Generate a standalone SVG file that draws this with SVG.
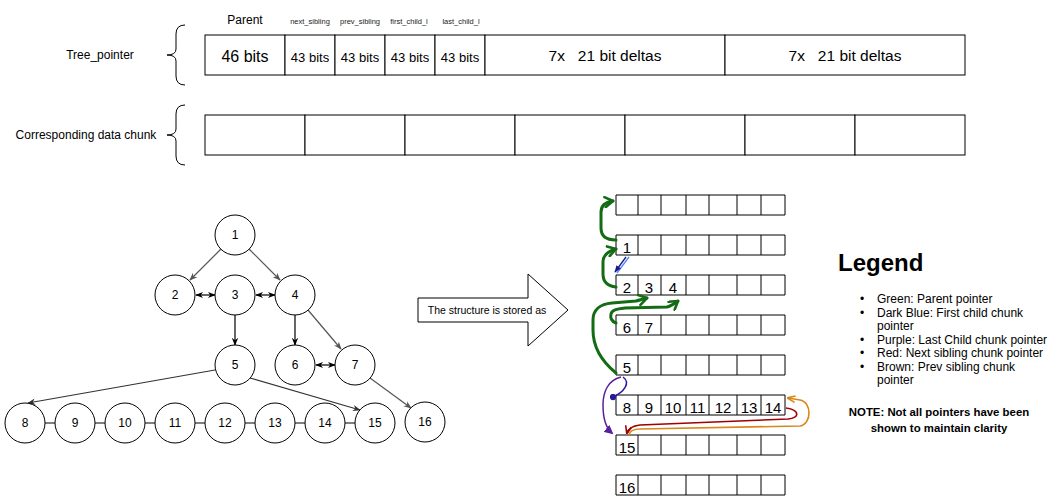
<svg xmlns="http://www.w3.org/2000/svg" width="1061" height="501" viewBox="0 0 1061 501">
<style>
text{font-family:"Liberation Sans",Arial,sans-serif;fill:#000}
.box{fill:#fff;stroke:#000;stroke-width:1}
.c{fill:#fff;stroke:#000;stroke-width:1}
.nt{font-size:12px;text-anchor:middle}
.ct{font-size:15px;text-anchor:middle}
.ln{fill:none;stroke:#000;stroke-width:1.2}
.lg{fill:none;stroke:#555;stroke-width:1.2}
.lg2{fill:none;stroke:#333;stroke-width:1.2}
.brace{fill:none;stroke:#000;stroke-width:1}
.gr{fill:none;stroke:#136b13;stroke-width:3;stroke-linecap:round;stroke-linejoin:round}
.sm{font-size:7.5px;text-anchor:middle;fill:#222}
.li{font-size:12px}
</style>
<defs>
<marker id="ab" viewBox="0 0 10 10" refX="9" refY="5" markerWidth="8" markerHeight="8" markerUnits="userSpaceOnUse" orient="auto-start-reverse"><path d="M0,1 L10,5 L0,9 L3,5 Z" fill="#000"/></marker>
<marker id="ag" viewBox="0 0 10 10" refX="9" refY="5" markerWidth="8" markerHeight="8" markerUnits="userSpaceOnUse" orient="auto"><path d="M0,1 L10,5 L0,9 L3,5 Z" fill="#333"/></marker>
<marker id="agg" viewBox="0 0 10 10" refX="9" refY="5" markerWidth="8" markerHeight="8" markerUnits="userSpaceOnUse" orient="auto"><path d="M0,1 L10,5 L0,9 L3,5 Z" fill="#555"/></marker>
<marker id="agreen" viewBox="0 0 12 12" refX="10" refY="6" markerWidth="12" markerHeight="12" markerUnits="userSpaceOnUse" orient="auto"><path d="M2,1 L10,6 L2,11" fill="none" stroke="#136b13" stroke-width="2.6" stroke-linecap="round" stroke-linejoin="round"/></marker>
<marker id="ared" viewBox="0 0 10 10" refX="9" refY="5" markerWidth="8" markerHeight="8" markerUnits="userSpaceOnUse" orient="auto"><path d="M0,1 L10,5 L0,9" fill="none" stroke="#a00000" stroke-width="2"/></marker>
<marker id="aor" viewBox="0 0 10 10" refX="9" refY="5" markerWidth="8" markerHeight="8" markerUnits="userSpaceOnUse" orient="auto"><path d="M0,1 L10,5 L0,9" fill="none" stroke="#d9861a" stroke-width="2"/></marker>
<marker id="apur" viewBox="0 0 10 10" refX="8" refY="5" markerWidth="9" markerHeight="9" markerUnits="userSpaceOnUse" orient="auto"><path d="M0,0 L10,5 L0,10 Z" fill="#5a1f9e"/></marker>
<marker id="adot" viewBox="0 0 10 10" refX="5" refY="5" markerWidth="7" markerHeight="7" markerUnits="userSpaceOnUse"><circle cx="5" cy="5" r="4.5" fill="#2a1a9a"/></marker>
<marker id="ablue" viewBox="0 0 10 10" refX="9" refY="5" markerWidth="7" markerHeight="7" markerUnits="userSpaceOnUse" orient="auto"><path d="M0,1 L10,5 L0,9 Z" fill="#1a1a8a"/></marker>
</defs>

<g id="tree-pointer">
<text x="100" y="59" font-size="12" text-anchor="middle">Tree_pointer</text>
<path class="brace" d="M185,25 Q176,25 176,34 L176,49 Q176,55 167,55 Q176,55 176,61 L176,76 Q176,85 185,85"/>
<text x="245" y="24" font-size="12" text-anchor="middle">Parent</text>
<text class="sm" x="310" y="24">next_sibling</text>
<text class="sm" x="360" y="24">prev_sibling</text>
<text class="sm" x="409" y="24">first_child_l</text>
<text class="sm" x="461" y="24">last_child_l</text>
<rect class="box" x="205" y="35" width="80" height="40"/>
<rect class="box" x="285" y="35" width="50" height="40"/>
<rect class="box" x="335" y="35" width="50" height="40"/>
<rect class="box" x="385" y="35" width="50" height="40"/>
<rect class="box" x="435" y="35" width="50" height="40"/>
<rect class="box" x="485" y="35" width="240" height="40"/>
<rect class="box" x="725" y="35" width="240" height="40"/>
<text x="245" y="62" font-size="16" text-anchor="middle">46 bits</text>
<text x="310" y="62" font-size="13" text-anchor="middle">43 bits</text>
<text x="360" y="62" font-size="13" text-anchor="middle">43 bits</text>
<text x="410" y="62" font-size="13" text-anchor="middle">43 bits</text>
<text x="460" y="62" font-size="13" text-anchor="middle">43 bits</text>
<text x="605" y="61" font-size="15.5" text-anchor="middle" style="white-space:pre">7x   21 bit deltas</text>
<text x="845" y="61" font-size="15.5" text-anchor="middle" style="white-space:pre">7x   21 bit deltas</text>
</g>

<g id="data-chunk">
<text x="86" y="139" font-size="12" text-anchor="middle">Corresponding data chunk</text>
<path class="brace" d="M185,105 Q176,105 176,114 L176,129 Q176,135 167,135 Q176,135 176,141 L176,156 Q176,165 185,165"/>
<rect class="box" x="205" y="115" width="100" height="40"/>
<rect class="box" x="305" y="115" width="100" height="40"/>
<rect class="box" x="405" y="115" width="110" height="40"/>
<rect class="box" x="515" y="115" width="110" height="40"/>
<rect class="box" x="625" y="115" width="120" height="40"/>
<rect class="box" x="745" y="115" width="110" height="40"/>
<rect class="box" x="855" y="115" width="110" height="40"/>
</g>

<g id="tree-connectors">
<line class="lg" x1="221" y1="249" x2="190" y2="280" marker-end="url(#agg)"/>
<line class="lg" x1="249" y1="249" x2="280" y2="280" marker-end="url(#agg)"/>
<line class="ln" x1="196" y1="295" x2="215" y2="295" marker-start="url(#ab)" marker-end="url(#ab)"/>
<line class="ln" x1="256" y1="295" x2="275" y2="295" marker-start="url(#ab)" marker-end="url(#ab)"/>
<line class="ln" x1="235" y1="315" x2="235" y2="345" marker-end="url(#ab)"/>
<line class="ln" x1="295" y1="315" x2="295" y2="345" marker-end="url(#ab)"/>
<line class="lg" x1="308" y1="310" x2="341" y2="349" marker-end="url(#agg)"/>
<line class="ln" x1="316" y1="365" x2="335" y2="365" marker-start="url(#ab)" marker-end="url(#ab)"/>
<line class="lg2" x1="215" y1="370" x2="28" y2="403" marker-end="url(#ag)"/>
<line class="lg2" x1="250" y1="378" x2="360" y2="410" marker-end="url(#ag)"/>
<line class="lg" x1="370" y1="378" x2="411" y2="408" marker-end="url(#agg)"/>
<path class="ln" d="M45,423 H55 M95,423 H105 M145,423 H155 M195,423 H205 M245,423 H255 M295,423 H305 M345,423 H355"/>
</g>

<g id="n1"><circle class="c" cx="235" cy="235" r="20"/><text class="nt" x="235" y="239">1</text></g>
<g id="n2"><circle class="c" cx="175" cy="295" r="20"/><text class="nt" x="175" y="299">2</text></g>
<g id="n3"><circle class="c" cx="235" cy="295" r="20"/><text class="nt" x="235" y="299">3</text></g>
<g id="n4"><circle class="c" cx="295" cy="295" r="20"/><text class="nt" x="295" y="299">4</text></g>
<g id="n5"><circle class="c" cx="235" cy="365" r="20"/><text class="nt" x="235" y="369">5</text></g>
<g id="n6"><circle class="c" cx="295" cy="365" r="20"/><text class="nt" x="295" y="369">6</text></g>
<g id="n7"><circle class="c" cx="355" cy="365" r="20"/><text class="nt" x="355" y="369">7</text></g>
<g id="n8"><circle class="c" cx="25" cy="423" r="20"/><text class="nt" x="25" y="427">8</text></g>
<g id="n9"><circle class="c" cx="75" cy="423" r="20"/><text class="nt" x="75" y="427">9</text></g>
<g id="n10"><circle class="c" cx="125" cy="423" r="20"/><text class="nt" x="125" y="427">10</text></g>
<g id="n11"><circle class="c" cx="175" cy="423" r="20"/><text class="nt" x="175" y="427">11</text></g>
<g id="n12"><circle class="c" cx="225" cy="423" r="20"/><text class="nt" x="225" y="427">12</text></g>
<g id="n13"><circle class="c" cx="275" cy="423" r="20"/><text class="nt" x="275" y="427">13</text></g>
<g id="n14"><circle class="c" cx="325" cy="423" r="20"/><text class="nt" x="325" y="427">14</text></g>
<g id="n15"><circle class="c" cx="375" cy="423" r="20"/><text class="nt" x="375" y="427">15</text></g>
<g id="n16"><circle class="c" cx="425" cy="422" r="20"/><text class="nt" x="425" y="426">16</text></g>

<g id="big-arrow">
<path d="M418,298 L528,298 L528,274 L568,310 L528,346 L528,322 L418,322 Z" fill="#fff" stroke="#000" stroke-width="1"/>
<text x="487" y="314" font-size="10.5" text-anchor="middle">The structure is stored as</text>
</g>

<g id="chunks">
<g id="row0"><path class="box" d="M616,195 H785 V215 H616 Z M638,195 V215 M661,195 V215 M686,195 V215 M709,195 V215 M737,195 V215 M761,195 V215"/></g>
<g id="row1"><path class="box" d="M616,235 H785 V255 H616 Z M638,235 V255 M661,235 V255 M686,235 V255 M709,235 V255 M737,235 V255 M761,235 V255"/>
<text class="ct" x="627" y="253">1</text></g>
<g id="row2"><path class="box" d="M616,275 H785 V295 H616 Z M638,275 V295 M661,275 V295 M686,275 V295 M709,275 V295 M737,275 V295 M761,275 V295"/>
<text class="ct" x="627" y="293">2</text><text class="ct" x="649" y="293">3</text><text class="ct" x="673" y="293">4</text></g>
<g id="row3"><path class="box" d="M616,315 H785 V335 H616 Z M638,315 V335 M661,315 V335 M686,315 V335 M709,315 V335 M737,315 V335 M761,315 V335"/>
<text class="ct" x="627" y="333">6</text><text class="ct" x="649" y="333">7</text></g>
<g id="row4"><path class="box" d="M616,355 H785 V375 H616 Z M638,355 V375 M661,355 V375 M686,355 V375 M709,355 V375 M737,355 V375 M761,355 V375"/>
<text class="ct" x="627" y="373">5</text></g>
<g id="row5"><path class="box" d="M616,395 H785 V415 H616 Z M638,395 V415 M661,395 V415 M686,395 V415 M709,395 V415 M737,395 V415 M761,395 V415"/>
<text class="ct" x="627" y="413">8</text><text class="ct" x="649" y="413">9</text><text class="ct" x="673" y="413">10</text><text class="ct" x="697.5" y="413">11</text><text class="ct" x="723" y="413">12</text><text class="ct" x="749" y="413">13</text><text class="ct" x="773" y="413">14</text></g>
<g id="row6"><path class="box" d="M616,435 H785 V455 H616 Z M638,435 V455 M661,435 V455 M686,435 V455 M709,435 V455 M737,435 V455 M761,435 V455"/>
<text class="ct" x="627" y="453">15</text></g>
<g id="row7"><path class="box" d="M616,475 H785 V495 H616 Z M638,475 V495 M661,475 V495 M686,475 V495 M709,475 V495 M737,475 V495 M761,475 V495"/>
<text class="ct" x="627" y="493">16</text></g>
</g>

<g id="pointer-connectors">
<path class="gr" d="M616,240 C606,240 601,236 601,228 L601,212 C601,205 606,202 613,201" marker-end="url(#agreen)"/>
<path class="gr" d="M616,287 C607,286 603,282 603,274 L603,262 C603,255 609,251 616,249" marker-end="url(#agreen)"/>
<path class="gr" d="M616,373 C600,360 593,345 593,330 L593,320 C593,310 600,304 612,303 L636,301 C640,300 643,299 647,298" marker-end="url(#agreen)"/>
<path class="gr" d="M616,323 C611,321 610,318 611,314 C612,310 616,309 625,308 L667,307 C671,306 674,304 678,301" marker-end="url(#agreen)"/>
<line x1="629" y1="257" x2="617" y2="273" stroke="#4d88ff" stroke-width="1.3"/>
<line x1="626" y1="257" x2="615" y2="272" stroke="#1a1a8a" stroke-width="1.3" marker-end="url(#ablue)"/>
<path d="M621,377 C608,380 603,392 603,405 C603,420 606,428 612,433" fill="none" stroke="#5a1f9e" stroke-width="1.5" marker-end="url(#apur)"/>
<path d="M623,377 C631,383 624,392 613,397" fill="none" stroke="#2a1a9a" stroke-width="1.5" marker-end="url(#adot)"/>
<path d="M786,408 C800,410 800,418 788,419 L640,425 C632,426 628,429 627,433" fill="none" stroke="#a00000" stroke-width="1.6" marker-end="url(#ared)"/>
<path d="M629,435 C630,430 634,429 640,429 L800,426 C812,424 812,402 800,400 L788,398" fill="none" stroke="#d9861a" stroke-width="1.6" marker-end="url(#aor)"/>
</g>

<g id="legend">
<text x="838" y="271" font-size="24" font-weight="bold">Legend</text>
<text class="li" x="860" y="303">•</text><text class="li" x="877" y="303">Green: Parent pointer</text>
<text class="li" x="860" y="316.5">•</text><text class="li" x="877" y="316.5">Dark Blue: First child chunk</text>
<text class="li" x="877" y="330">pointer</text>
<text class="li" x="860" y="343.5">•</text><text class="li" x="877" y="343.5">Purple: Last Child chunk pointer</text>
<text class="li" x="860" y="357">•</text><text class="li" x="877" y="357">Red: Next sibling chunk pointer</text>
<text class="li" x="860" y="370.5">•</text><text class="li" x="877" y="370.5">Brown: Prev sibling chunk</text>
<text class="li" x="877" y="384">pointer</text>
<text x="939" y="416" font-size="11.4" font-weight="bold" text-anchor="middle">NOTE: Not all pointers have been</text>
<text x="939" y="432" font-size="11.4" font-weight="bold" text-anchor="middle">shown to maintain clarity</text>
</g>
</svg>
